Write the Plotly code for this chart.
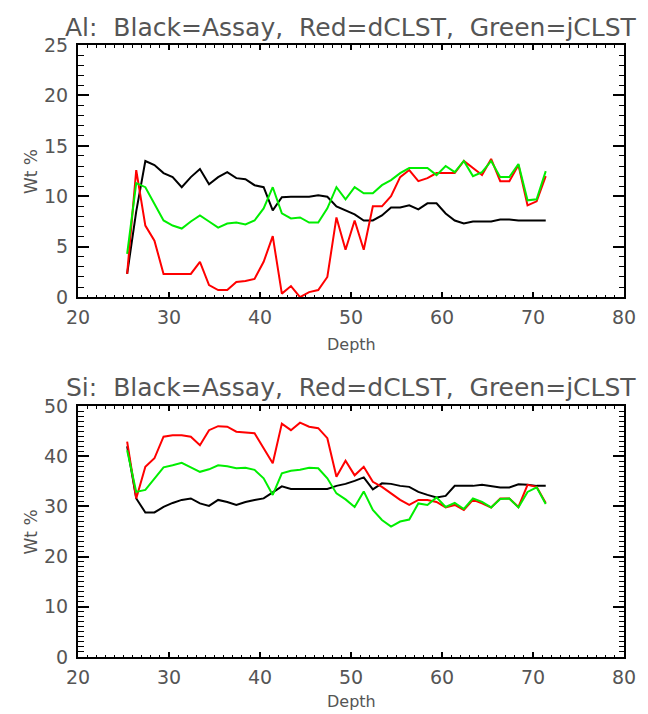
import plotly.graph_objects as go

depth = [25.4, 26.4, 27.4, 28.4, 29.4, 30.4, 31.4, 32.4, 33.4, 34.4, 35.4, 36.4,
         37.4, 38.4, 39.4, 40.4, 41.4, 42.4, 43.4, 44.4, 45.4, 46.4, 47.4, 48.4,
         49.4, 50.4, 51.4, 52.4, 53.4, 54.4, 55.4, 56.4, 57.4, 58.4, 59.4, 60.4,
         61.4, 62.4, 63.4, 64.4, 65.4, 66.4, 67.4, 68.4, 69.4, 70.4, 71.4]

al_assay = [2.3, 8.5, 13.5, 13.1, 12.3, 11.9, 10.9, 11.9, 12.7, 11.2, 11.9, 12.4,
            11.8, 11.7, 11.1, 10.9, 8.6, 9.9, 9.95, 9.95, 9.95, 10.1, 9.95, 9.0,
            8.6, 8.2, 7.6, 7.6, 8.1, 8.9, 8.9, 9.1, 8.7, 9.3, 9.3, 8.3,
            7.6, 7.3, 7.5, 7.5, 7.5, 7.7, 7.7, 7.6, 7.6, 7.6, 7.6]
al_dclst = [2.3, 12.6, 7.1, 5.6, 2.3, 2.3, 2.3, 2.3, 3.5, 1.2, 0.7, 0.7,
            1.5, 1.6, 1.8, 3.5, 6.05, 0.35, 1.1, 0.0, 0.5, 0.7, 2.0, 7.9,
            4.7, 7.6, 4.7, 9.0, 9.0, 10.0, 11.9, 12.6, 11.5, 11.8, 12.3, 12.3,
            12.3, 13.5, 12.8, 12.1, 13.7, 11.5, 11.5, 13.1, 9.1, 9.5, 12.0]
al_jclst = [4.3, 11.3, 10.9, 9.3, 7.6, 7.1, 6.8, 7.5, 8.1, 7.5, 6.9, 7.3,
            7.4, 7.2, 7.6, 8.8, 10.9, 8.3, 7.8, 7.9, 7.4, 7.4, 8.8, 10.9,
            9.7, 10.9, 10.3, 10.3, 11.1, 11.6, 12.3, 12.8, 12.8, 12.8, 12.1, 13.0,
            12.4, 13.5, 12.0, 12.4, 13.5, 11.9, 11.9, 13.2, 9.6, 9.7, 12.5]

si_assay = [42.0, 31.6, 28.8, 28.8, 29.9, 30.7, 31.3, 31.6, 30.6, 30.1, 31.3, 30.9,
            30.3, 30.9, 31.3, 31.6, 32.8, 34.0, 33.5, 33.5, 33.5, 33.5, 33.5, 34.1,
            34.5, 35.1, 35.8, 33.4, 34.6, 34.5, 34.1, 33.9, 32.9, 32.3, 31.8, 32.1,
            34.1, 34.1, 34.1, 34.3, 34.1, 33.8, 33.8, 34.4, 34.3, 34.1, 34.1]
si_dclst = [42.9, 31.6, 37.9, 39.6, 43.9, 44.2, 44.2, 43.9, 42.2, 45.2, 46.0, 45.9,
            44.9, 44.7, 44.6, 41.6, 38.6, 46.5, 45.2, 46.7, 45.9, 45.6, 43.6, 35.9,
            39.1, 36.2, 37.9, 34.9, 33.9, 32.6, 31.3, 30.3, 31.3, 31.3, 30.9, 29.8,
            30.3, 29.3, 31.3, 30.6, 29.8, 31.6, 31.6, 29.9, 34.3, 33.9, 30.7]
si_jclst = [41.2, 32.9, 33.3, 35.6, 37.8, 38.2, 38.7, 37.8, 36.9, 37.4, 38.2, 38.0,
            37.6, 37.7, 37.3, 35.6, 32.3, 36.6, 37.1, 37.3, 37.7, 37.6, 35.6, 32.6,
            31.4, 29.9, 33.0, 29.3, 27.3, 26.0, 27.0, 27.4, 30.6, 30.3, 31.8, 29.9,
            30.7, 29.5, 31.6, 30.9, 29.8, 31.5, 31.6, 29.8, 32.9, 33.8, 30.5]

x_ticks = [20, 30, 40, 50, 60, 70, 80]
al_ticks = [0, 5, 10, 15, 20, 25]
si_ticks = [0, 10, 20, 30, 40, 50]

titles = ["Al:  Black=Assay,  Red=dCLST,  Green=jCLST",
          "Si:  Black=Assay,  Red=dCLST,  Green=jCLST"]

FONT = "DejaVu Sans"
TXT = "#555555"
colors = ["#000000", "#ff0000", "#00ee00"]

fig = go.Figure()
for ys, c in zip([al_assay, al_dclst, al_jclst], colors):
    fig.add_trace(go.Scatter(x=depth, y=ys, mode="lines", line=dict(color=c, width=2),
                             xaxis="x", yaxis="y", showlegend=False))
for ys, c in zip([si_assay, si_dclst, si_jclst], colors):
    fig.add_trace(go.Scatter(x=depth, y=ys, mode="lines", line=dict(color=c, width=2),
                             xaxis="x2", yaxis="y2", showlegend=False))

def xax(anchor):
    return dict(domain=[0, 1], anchor=anchor, range=[20, 80], tickvals=x_ticks,
                ticks="inside", ticklen=5, tickwidth=1.5, tickcolor="black",
                showline=True, linecolor="black", linewidth=2, mirror="ticks",
                showgrid=False, zeroline=False,
                tickfont=dict(family=FONT, size=19, color=TXT),
                minor=dict(dtick=1, ticks="inside", ticklen=2.5, tickcolor="black", tickwidth=1),
                ticklabelstandoff=2)

def yax(anchor, dom, rng, tv, tl):
    return dict(domain=dom, anchor=anchor, range=rng, tickvals=tv,
                ticks="inside", ticklen=tl, tickwidth=1.5, tickcolor="black",
                showline=True, linecolor="black", linewidth=2, mirror="ticks",
                showgrid=False, zeroline=False,
                tickfont=dict(family=FONT, size=19, color=TXT),
                minor=dict(dtick=1, ticks="inside", ticklen=tl / 2, tickcolor="black", tickwidth=1),
                ticklabelstandoff=4)

top_dom = [0.588, 1.0]
bot_dom = [0.0, 0.41]

fig.update_layout(
    width=648, height=714,
    margin=dict(l=78, r=13, t=45, b=57),
    paper_bgcolor="white", plot_bgcolor="white",
    xaxis=xax("y"), yaxis=yax("x", top_dom, [0, 25], al_ticks, 11),
    xaxis2=xax("y2"), yaxis2=yax("x2", bot_dom, [0, 50], si_ticks, 11),
)

def py(pix):
    return (657 - pix) / 612

ann = []
for t, yy in zip(titles, [27, 387]):
    ann.append(dict(text=t, x=(356 - 78) / 557, y=py(yy), xref="paper", yref="paper",
                    showarrow=False, font=dict(family=FONT, size=25, color=TXT),
                    xanchor="center", yanchor="middle"))
for yy in [344, 701]:
    ann.append(dict(text="Depth", x=0.5, y=py(yy), xref="paper", yref="paper",
                    showarrow=False, font=dict(family=FONT, size=16, color=TXT),
                    xanchor="center", yanchor="middle"))
for yy in [(top_dom[0] + top_dom[1]) / 2, (bot_dom[0] + bot_dom[1]) / 2]:
    ann.append(dict(text="Wt %", x=(30 - 78) / 557, y=yy, xref="paper", yref="paper",
                    showarrow=False, textangle=-90, font=dict(family=FONT, size=17, color=TXT),
                    xanchor="center", yanchor="middle"))
fig.update_layout(annotations=ann)

fig.write_html("out.html", config={"displayModeBar": False},
               post_script="document.body.style.margin='0px';document.body.style.padding='0px';")
